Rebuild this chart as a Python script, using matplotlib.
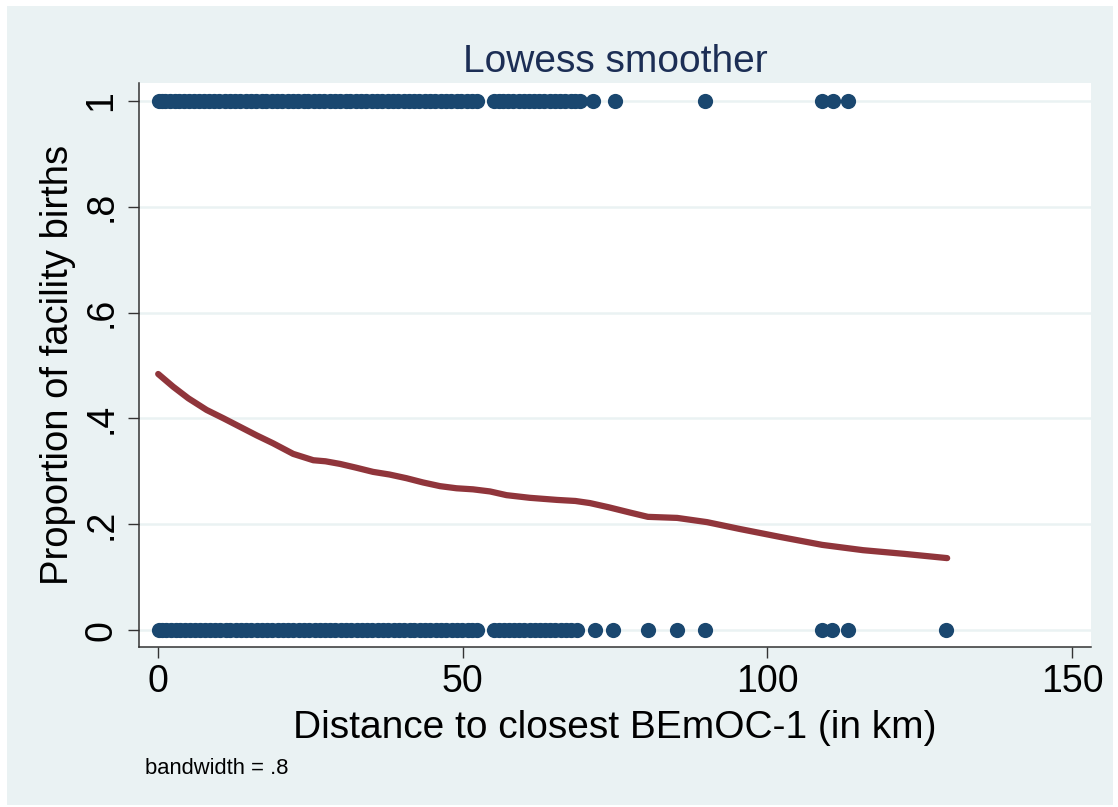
import matplotlib
matplotlib.use("Agg")
import matplotlib.pyplot as plt
from matplotlib.patches import Rectangle

# --- data ---
# distances (km) of observations with a facility birth (y = 1)
ones_x = [0.1, 0.6, 1.2, 2.0, 2.8, 3.5, 4.3, 5.1, 6.0, 6.8, 7.5, 8.4, 9.2, 10.1, 11.0,
          11.8, 12.7, 13.5, 14.4, 15.2, 16.1, 17.0, 17.8, 18.7, 19.6, 20.4, 21.3, 22.1,
          23.0, 23.9, 24.7, 25.6, 26.5, 27.3, 28.2, 29.0, 29.9, 30.8, 31.6, 32.5, 33.4,
          34.2, 35.1, 36.0, 36.8, 37.7, 38.6, 39.4, 40.3, 41.2, 42.0, 42.9, 43.8, 44.6,
          45.5, 46.4, 47.2, 48.1, 49.0, 49.8, 50.7, 51.5, 52.3, 55.1, 55.9, 56.7, 57.5,
          58.3, 59.2, 60.0, 60.9, 61.7, 62.6, 63.4, 64.3, 65.1, 66.0, 66.8, 67.7, 68.5,
          69.3, 71.4, 75.0, 89.8, 109.0, 110.8, 113.2]
# distances (km) of observations without a facility birth (y = 0)
zeros_x = [0.1, 0.7, 1.3, 2.1, 2.9, 3.6, 4.4, 5.2, 6.1, 6.9, 7.7, 8.5, 9.3, 10.2, 11.1,
           11.9, 12.8, 13.6, 14.5, 15.3, 16.2, 17.1, 17.9, 18.8, 19.7, 20.5, 21.4, 22.2,
           23.1, 24.0, 24.8, 25.7, 26.6, 27.4, 28.3, 29.1, 30.0, 30.9, 31.7, 32.6, 33.5,
           34.3, 35.2, 36.1, 36.9, 37.8, 38.7, 39.5, 40.4, 41.3, 42.1, 43.0, 43.9, 44.7,
           45.6, 46.5, 47.3, 48.2, 49.1, 49.9, 50.8, 51.6, 52.3, 55.1, 55.9, 56.8, 57.6,
           58.4, 59.3, 60.1, 61.0, 61.8, 62.7, 63.5, 64.4, 65.2, 66.1, 66.9, 67.8, 68.7,
           71.7, 74.7, 80.4, 85.2, 89.8, 109.0, 110.6, 113.2, 129.3]

lowess_x = [0.05, 2.5, 5.0, 8.0, 10.8, 13.5, 16.2, 18.9, 22.2, 25.5, 27.5, 29.9, 32.5,
            35.3, 38.0, 40.8, 43.5, 46.3, 49.0, 51.7, 54.5, 57.2, 61.0, 65.5, 68.5, 70.9,
            74.0, 77.5, 80.4, 85.2, 90.1, 95.5, 102.1, 109.0, 115.7, 122.5, 129.5]
lowess_y = [0.484, 0.460, 0.438, 0.416, 0.400, 0.384, 0.368, 0.353, 0.333, 0.321, 0.319,
            0.314, 0.307, 0.299, 0.294, 0.287, 0.279, 0.272, 0.268, 0.266, 0.262, 0.255,
            0.250, 0.246, 0.244, 0.240, 0.232, 0.222, 0.214, 0.212, 0.204, 0.191, 0.176,
            0.161, 0.151, 0.144, 0.136]

x_ticks = [0, 50, 100, 150]
y_ticks = [0, 0.2, 0.4, 0.6, 0.8, 1.0]
y_tick_labels = ["0", ".2", ".4", ".6", ".8", "1"]

# --- style ---
plt.rcParams["font.family"] = ["Liberation Sans", "DejaVu Sans"]
region_color = "#eaf2f3"
navy = "#1a476f"
maroon = "#90353b"
W, H = 1118, 807

fig = plt.figure(figsize=(W / 100, H / 100), dpi=100, facecolor="white")
fig.patches.append(Rectangle((7 / W, 2 / H), 1106 / W, 799 / H, transform=fig.transFigure,
                             facecolor=region_color, edgecolor="none", zorder=-10))

ax = fig.add_axes([139 / W, 1 - 647 / H, (1091 - 139) / W, (647 - 83) / H])
ax.set_facecolor("white")

ax.scatter(ones_x, [1] * len(ones_x), s=120, color=navy, linewidths=0, zorder=3)
ax.scatter(zeros_x, [0] * len(zeros_x), s=120, color=navy, linewidths=0, zorder=3)
ax.plot(lowess_x, lowess_y, color=maroon, linewidth=4.5, solid_capstyle="round",
        solid_joinstyle="round", zorder=4)

ax.set_xlim(-3.1, 153.1)
ax.set_ylim(-0.032, 1.034)
ax.set_xticks(x_ticks)
ax.set_yticks(y_ticks)
ax.set_yticklabels(y_tick_labels, rotation=90, va="center")
ax.yaxis.grid(True, color=region_color, linewidth=1.8, zorder=0)
ax.set_axisbelow(True)

for side in ["top", "right"]:
    ax.spines[side].set_visible(False)
for side in ["left", "bottom"]:
    ax.spines[side].set_color("#333333")
    ax.spines[side].set_linewidth(1.1)

ax.tick_params(axis="both", direction="out", length=8, width=1.0, color="#333333",
               labelsize=27, labelcolor="black")
ax.tick_params(axis="x", pad=4)
ax.tick_params(axis="y", pad=6)

fig.text(615 / W, 1 - 72 / H, "Lowess smoother", ha="center", va="baseline",
         fontsize=28, color="#1c2e55")
fig.text(615 / W, 1 - 738 / H, "Distance to closest BEmOC-1 (in km)", ha="center",
         va="baseline", fontsize=28, color="black")
fig.text(58 / W, 1 - 365 / H, "Proportion of facility births", ha="center", va="center",
         rotation=90, fontsize=27.5, color="black")
fig.text(145 / W, 1 - 774 / H, "bandwidth = .8", ha="left", va="baseline",
         fontsize=15.8, color="black")

fig.savefig("out.png", dpi=100, facecolor="white")
